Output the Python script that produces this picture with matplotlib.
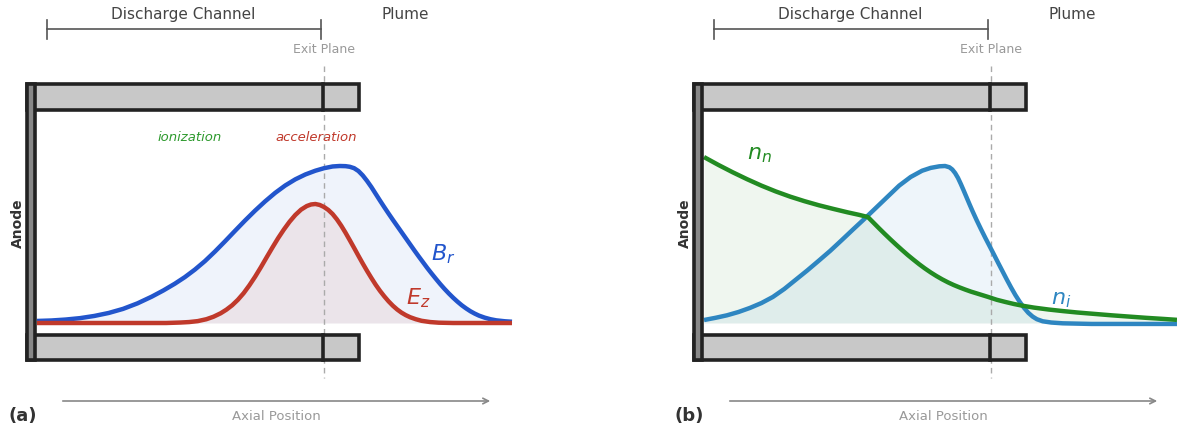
import matplotlib.pyplot as plt
from matplotlib.patches import Rectangle

# axial position: 0 = anode face, 1 = exit plane; amplitudes normalised to peak B_r / n_i
z_br = [0.000, 0.050, 0.100, 0.150, 0.200, 0.250, 0.300, 0.350, 0.400, 0.440,
        0.480, 0.515, 0.550, 0.585, 0.620, 0.655, 0.690, 0.725, 0.760, 0.795,
        0.830, 0.865, 0.900, 0.935, 0.970, 1.000, 1.030, 1.055, 1.075, 1.090,
        1.105, 1.120, 1.135, 1.150, 1.165, 1.180, 1.195, 1.210, 1.225, 1.240,
        1.255, 1.270, 1.285, 1.300, 1.315, 1.330, 1.345, 1.360, 1.375, 1.390,
        1.405, 1.420, 1.435, 1.450, 1.465, 1.480, 1.495, 1.510, 1.525, 1.540,
        1.560, 1.580, 1.600, 1.630, 1.655]
br = [0.013, 0.016, 0.022, 0.031, 0.045, 0.064, 0.090, 0.125, 0.168, 0.207,
      0.250, 0.292, 0.340, 0.394, 0.455, 0.520, 0.587, 0.653, 0.716, 0.775,
      0.829, 0.876, 0.915, 0.946, 0.970, 0.986, 0.997, 1.000, 0.999, 0.995,
      0.986, 0.968, 0.940, 0.905, 0.866, 0.823, 0.780, 0.738, 0.697, 0.657,
      0.618, 0.579, 0.540, 0.501, 0.462, 0.424, 0.387, 0.350, 0.315, 0.281,
      0.248, 0.217, 0.188, 0.161, 0.136, 0.113, 0.093, 0.075, 0.060, 0.047,
      0.034, 0.024, 0.017, 0.011, 0.008]

z_ez = [0.000, 0.450, 0.500, 0.530, 0.560, 0.590, 0.615, 0.640, 0.660, 0.680,
        0.700, 0.720, 0.740, 0.760, 0.780, 0.800, 0.820, 0.840, 0.860, 0.880,
        0.900, 0.920, 0.940, 0.955, 0.970, 0.985, 1.000, 1.015, 1.030, 1.045,
        1.060, 1.075, 1.090, 1.105, 1.120, 1.135, 1.150, 1.165, 1.180, 1.195,
        1.210, 1.225, 1.240, 1.255, 1.270, 1.285, 1.300, 1.320, 1.340, 1.370,
        1.400, 1.450, 1.655]
ez = [0.000, 0.000, 0.003, 0.006, 0.012, 0.024, 0.040, 0.062, 0.085, 0.113,
      0.148, 0.190, 0.240, 0.295, 0.355, 0.418, 0.480, 0.540, 0.595, 0.645,
      0.688, 0.722, 0.745, 0.755, 0.758, 0.752, 0.739, 0.720, 0.694, 0.660,
      0.620, 0.575, 0.527, 0.478, 0.428, 0.379, 0.332, 0.287, 0.244, 0.205,
      0.170, 0.138, 0.110, 0.086, 0.066, 0.050, 0.037, 0.024, 0.014, 0.006,
      0.002, 0.000, 0.000]

z_nn = [0.000, 0.050, 0.100, 0.150, 0.200, 0.250, 0.300, 0.350, 0.400, 0.450,
        0.500, 0.540, 0.571, 0.590, 0.610, 0.630, 0.650, 0.670, 0.690, 0.710,
        0.730, 0.750, 0.770, 0.790, 0.810, 0.830, 0.850, 0.870, 0.890, 0.910,
        0.930, 0.960, 0.990, 1.020, 1.050, 1.080, 1.110, 1.150, 1.200, 1.250,
        1.300, 1.360, 1.420, 1.480, 1.540, 1.600, 1.648]
nn = [1.057, 1.007, 0.960, 0.916, 0.875, 0.838, 0.805, 0.776, 0.750, 0.727,
      0.705, 0.689, 0.675, 0.640, 0.603, 0.567, 0.532, 0.498, 0.465, 0.433,
      0.403, 0.374, 0.347, 0.322, 0.299, 0.278, 0.259, 0.242, 0.227, 0.213,
      0.200, 0.183, 0.166, 0.148, 0.134, 0.121, 0.110, 0.098, 0.086, 0.076,
      0.067, 0.058, 0.049, 0.041, 0.033, 0.026, 0.020]

z_ni = [0.000, 0.040, 0.080, 0.120, 0.160, 0.200, 0.240, 0.280, 0.320, 0.360,
        0.400, 0.440, 0.480, 0.520, 0.560, 0.600, 0.640, 0.680, 0.720, 0.760,
        0.790, 0.820, 0.840, 0.855, 0.865, 0.875, 0.885, 0.895, 0.905, 0.915,
        0.925, 0.935, 0.950, 0.965, 0.980, 0.995, 1.010, 1.025, 1.040, 1.055,
        1.070, 1.085, 1.100, 1.115, 1.130, 1.145, 1.160, 1.180, 1.210, 1.250,
        1.350, 1.648]
ni = [0.019, 0.033, 0.049, 0.070, 0.096, 0.127, 0.166, 0.217, 0.276, 0.335,
      0.397, 0.460, 0.528, 0.597, 0.665, 0.735, 0.805, 0.875, 0.930, 0.970,
      0.988, 0.998, 1.000, 0.992, 0.978, 0.955, 0.924, 0.885, 0.843, 0.800,
      0.757, 0.715, 0.655, 0.598, 0.543, 0.490, 0.437, 0.383, 0.330, 0.277,
      0.226, 0.178, 0.135, 0.097, 0.065, 0.041, 0.024, 0.011, 0.003, -0.002,
      -0.006, -0.006]

# pixel layout of one panel (anode face at px 37, exit plane at px 324)
def X(px):
    return (px - 37) / 287.0

def Y(py):
    return (323 - py) / 157.0

W, H = 1177, 432
fig = plt.figure(figsize=(W / 100, H / 100), dpi=100)
ax_a = fig.add_axes([0, 0, 588 / W, 1])
ax_b = fig.add_axes([588 / W, 0, 589 / W, 1])
ax_a.set_xlim(X(0), X(588))
ax_b.set_xlim(X(588 - 667), X(1177 - 667))
for ax in (ax_a, ax_b):
    ax.set_ylim(Y(H), Y(0))
    ax.axis('off')

wall_ec = '#222222'


def thruster(ax, tag):
    # walls
    for y0, y1 in [(84, 110), (335, 360)]:
        ax.add_patch(Rectangle((X(27), Y(y1)), X(359) - X(27), Y(y0) - Y(y1),
                               facecolor='#c8c8c8', edgecolor=wall_ec, lw=2.6, zorder=4))
        ax.plot([X(323), X(323)], [Y(y0), Y(y1)], color=wall_ec, lw=2.6, zorder=5)
    # anode
    ax.add_patch(Rectangle((X(27), Y(360)), X(35) - X(27), Y(84) - Y(360),
                           facecolor='#888888', edgecolor=wall_ec, lw=2.6, zorder=6))
    ax.text(X(18), Y(223), 'Anode', rotation=90, ha='center', va='center',
            fontsize=10, fontweight='bold', color='#333333')
    # exit plane
    ax.plot([X(324), X(324)], [Y(66), Y(378)], color='#aaaaaa', lw=1.0,
            dashes=(4, 3), zorder=2)
    ax.text(X(324), Y(49), 'Exit Plane', ha='center', va='center', fontsize=9, color='#999999')
    # bracket
    bc = '#555555'
    ax.plot([X(47), X(321)], [Y(29), Y(29)], color=bc, lw=1.2)
    ax.plot([X(47), X(47)], [Y(20), Y(39)], color=bc, lw=1.2)
    ax.plot([X(321), X(321)], [Y(20), Y(39)], color=bc, lw=1.2)
    ax.text(X(183), Y(14), 'Discharge Channel', ha='center', va='center', fontsize=11, color='#444444')
    ax.text(X(405), Y(14), 'Plume', ha='center', va='center', fontsize=11, color='#444444')
    # axial arrow
    ax.annotate('', xy=(X(493), Y(401)), xytext=(X(60), Y(401)),
                arrowprops=dict(arrowstyle='->', color='#888888', lw=1.2))
    ax.text(X(276), Y(416), 'Axial Position', ha='center', va='center', fontsize=9.5, color='#999999')
    ax.text(X(8), Y(416), tag, ha='left', va='center', fontsize=13, fontweight='bold', color='#333333')


thruster(ax_a, '(a)')
thruster(ax_b, '(b)')

line_kw = dict(lw=3.2, solid_capstyle='butt', solid_joinstyle='round', zorder=3)

# (a) fields
c_br, c_ez = '#2255cc', '#c0392b'
ax_a.fill_between(z_br, br, 0, color=c_br, alpha=0.07, lw=0, zorder=1)
ax_a.fill_between(z_ez, ez, 0, color=c_ez, alpha=0.08, lw=0, zorder=1)
ax_a.plot(z_br, br, color=c_br, **line_kw)
ax_a.plot(z_ez, ez, color=c_ez, **line_kw)
ax_a.text(X(443), Y(254), '$B_r$', color=c_br, fontsize=16, ha='center', va='center')
ax_a.text(X(418), Y(298), '$E_z$', color=c_ez, fontsize=16, ha='center', va='center')
ax_a.text(X(190), Y(137), 'ionization', color='#2e9a2e', fontsize=9.5, style='italic',
          ha='center', va='center')
ax_a.text(X(316), Y(137), 'acceleration', color=c_ez, fontsize=9.5, style='italic',
          ha='center', va='center')

# (b) densities
c_nn, c_ni = '#228b22', '#2e86c1'
ax_b.fill_between(z_nn, nn, 0, color=c_nn, alpha=0.07, lw=0, zorder=1)
ax_b.fill_between(z_ni, ni, 0, color=c_ni, alpha=0.08, lw=0, zorder=1)
ax_b.plot(z_ni, ni, color=c_ni, **line_kw)
ax_b.plot(z_nn, nn, color=c_nn, **line_kw)
ax_b.text(X(759 - 667), Y(155), '$n_n$', color=c_nn, fontsize=16, ha='center', va='center')
ax_b.text(X(1061 - 667), Y(300), '$n_i$', color=c_ni, fontsize=16, ha='center', va='center')

fig.savefig('out.png', dpi=100)
